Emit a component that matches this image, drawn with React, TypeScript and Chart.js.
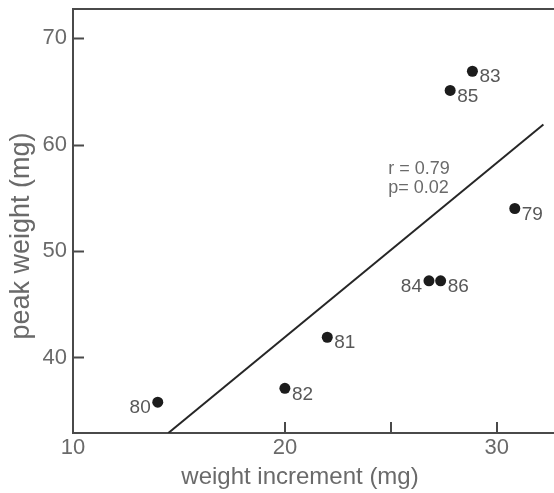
import { useEffect, useRef } from 'react';
import { Chart, registerables } from 'chart.js';

Chart.register(...registerables);

// Seasons (year labels) with their weight increment and peak weight, in mg
const yearLabels = ['79', '80', '81', '82', '83', '84', '85', '86'];
const weightIncrement = [30.85, 14.0, 22.0, 20.0, 28.85, 26.8, 27.8, 27.35];
const peakWeight = [54.0, 35.8, 41.9, 37.1, 66.9, 47.2, 65.1, 47.2];

// Least-squares fit line, from where it meets the x axis to its upper end
const fitIncrement = [14.5, 32.2];
const fitPeak = [32.9, 61.9];

const xTickValues = [10, 20, 25, 30];
const yTickValues = [40, 50, 60, 70];
const statLines = ['r = 0.79', 'p= 0.02'];
const xTitle = 'weight increment (mg)';
const yTitle = 'peak weight (mg)';

const FONT = '"Liberation Sans", Arial, Helvetica, sans-serif';
const AXIS = '#4a4a4a';
const TEXT = '#6a6a6a';
const LABEL = '#585858';
const labelsOnLeft = new Set(['80', '84']);

const zeroPadding = (s: any) => {
  s.paddingTop = 0;
  s.paddingBottom = 0;
  s.paddingLeft = 0;
  s.paddingRight = 0;
};

const decorations = {
  id: 'decorations',
  afterDatasetsDraw(chart: any) {
    const { ctx, chartArea, scales } = chart;
    const xs = scales.x;
    const ys = scales.y;
    ctx.save();

    // top frame line
    ctx.strokeStyle = AXIS;
    ctx.lineWidth = 2;
    ctx.beginPath();
    ctx.moveTo(chartArea.left - 1, chartArea.top);
    ctx.lineTo(chart.width, chartArea.top);
    ctx.stroke();

    // inward tick marks
    ctx.beginPath();
    yTickValues.forEach((v) => {
      const py = Math.round(ys.getPixelForValue(v)) + 0.5;
      ctx.moveTo(chartArea.left, py);
      ctx.lineTo(chartArea.left + 11, py);
    });
    xTickValues
      .filter((v) => v > xs.min)
      .forEach((v) => {
        const px = Math.round(xs.getPixelForValue(v));
        ctx.moveTo(px, chartArea.bottom);
        ctx.lineTo(px, chartArea.bottom - 11);
      });
    ctx.stroke();

    // season labels beside each point
    const meta = chart.getDatasetMeta(0);
    ctx.font = `19px ${FONT}`;
    ctx.fillStyle = LABEL;
    ctx.textBaseline = 'middle';
    meta.data.forEach((pt: any, i: number) => {
      const left = labelsOnLeft.has(yearLabels[i]);
      ctx.textAlign = left ? 'right' : 'left';
      ctx.fillText(yearLabels[i], pt.x + (left ? -7 : 7), pt.y + 6);
    });

    // correlation statistics
    ctx.font = `18px ${FONT}`;
    ctx.fillStyle = TEXT;
    ctx.textAlign = 'left';
    const sx = xs.getPixelForValue(24.88);
    const sy = ys.getPixelForValue(57.7);
    statLines.forEach((line, i) => ctx.fillText(line, sx, sy + i * 19));

    // axis titles
    ctx.fillStyle = TEXT;
    ctx.textAlign = 'center';
    ctx.font = `24px ${FONT}`;
    ctx.fillText(xTitle, 300, 477);
    ctx.translate(22, 236);
    ctx.rotate(-Math.PI / 2);
    ctx.font = `27px ${FONT}`;
    ctx.fillText(yTitle, 0, 0);

    ctx.restore();
  },
};

export default function App() {
  const canvasRef = useRef<HTMLCanvasElement | null>(null);

  useEffect(() => {
    if (!canvasRef.current) return;
    const chart = new Chart(canvasRef.current, {
      type: 'scatter',
      data: {
        datasets: [
          {
            label: 'seasons',
            data: weightIncrement.map((x, i) => ({ x, y: peakWeight[i] })),
            pointRadius: 5.5,
            pointBackgroundColor: '#1c1c1c',
            pointBorderWidth: 0,
            pointHoverRadius: 5.5,
          },
          {
            label: 'fit',
            data: fitIncrement.map((x, i) => ({ x, y: fitPeak[i] })),
            showLine: true,
            borderColor: '#262626',
            borderWidth: 2,
            pointRadius: 0,
            pointHoverRadius: 0,
          },
        ],
      },
      options: {
        responsive: false,
        animation: false,
        events: [],
        layout: { autoPadding: false, padding: { top: 9, right: 0, left: 0, bottom: 0 } },
        plugins: {
          legend: { display: false },
          tooltip: { enabled: false },
        },
        scales: {
          x: {
            type: 'linear',
            min: 10,
            max: 32.7,
            afterBuildTicks: (s: any) => {
              s.ticks = xTickValues.map((value) => ({ value }));
            },
            afterFit: (s: any) => {
              s.height = 60;
              zeroPadding(s);
            },
            grid: { display: false, drawTicks: false, tickLength: 0 },
            border: { display: true, color: AXIS, width: 2 },
            ticks: {
              autoSkip: false,
              maxRotation: 0,
              padding: 2,
              color: TEXT,
              font: { family: FONT, size: 22 },
              callback: (v: any) => (Number(v) % 10 === 0 ? String(v) : ''),
            },
          },
          y: {
            type: 'linear',
            min: 32.9,
            max: 72.75,
            afterBuildTicks: (s: any) => {
              s.ticks = yTickValues.map((value) => ({ value }));
            },
            afterFit: (s: any) => {
              s.width = 73;
              zeroPadding(s);
            },
            grid: { display: false, drawTicks: false, tickLength: 0 },
            border: { display: true, color: AXIS, width: 2 },
            ticks: {
              autoSkip: false,
              padding: 6,
              color: TEXT,
              font: { family: FONT, size: 22 },
              callback: (v: any) => String(v),
            },
          },
        },
      },
      plugins: [decorations],
    });
    return () => chart.destroy();
  }, []);

  return (
    <div style={{ position: 'absolute', left: 0, top: 0, width: 554, height: 493, background: '#fff' }}>
      <canvas ref={canvasRef} width={554} height={493} />
    </div>
  );
}
